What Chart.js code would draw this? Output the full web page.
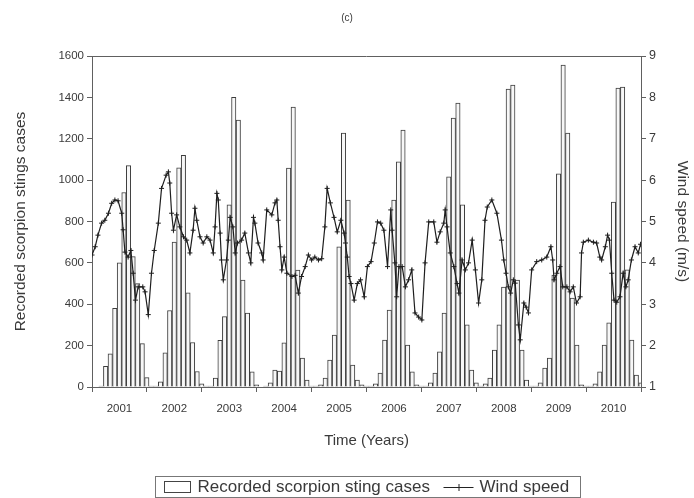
<!DOCTYPE html>
<html>
<head>
<meta charset="utf-8">
<script src="https://cdn.jsdelivr.net/npm/chart.js@4/dist/chart.umd.min.js"></script>
<style>
    html, body { margin: 0; padding: 0; background: #fff; }
</style>
</head>
<body>
<canvas id="chart" width="694" height="498"></canvas>
<script>
const YEARS = ['2001', '2002', '2003', '2004', '2005', '2006', '2007', '2008', '2009', '2010'];
const MONTHS = ['Jan', 'Feb', 'Mar', 'Apr', 'May', 'Jun', 'Jul', 'Aug', 'Sep', 'Oct', 'Nov', 'Dec'];

// monthly recorded scorpion sting cases, one array per year
const CASES_2001 = [0, 5, 100, 160, 380, 600, 940, 1070, 630, 500, 210, 45];
const CASES_2002 = [5, 5, 25, 165, 370, 700, 1060, 1120, 455, 215, 75, 15];
const CASES_2003 = [5, 5, 43, 225, 340, 880, 1400, 1290, 517, 357, 73, 10];
const CASES_2004 = [0, 5, 20, 82, 77, 213, 1058, 1353, 565, 140, 34, 5];
const CASES_2005 = [5, 10, 43, 130, 251, 677, 1227, 904, 106, 34, 10, 5];
const CASES_2006 = [5, 15, 67, 227, 372, 904, 1088, 1242, 203, 73, 10, 5];
const CASES_2007 = [5, 20, 67, 170, 357, 1016, 1300, 1373, 880, 300, 82, 20];
const CASES_2008 = [5, 15, 43, 179, 300, 483, 1440, 1460, 517, 179, 34, 5];
const CASES_2009 = [5, 20, 92, 140, 541, 1030, 1556, 1228, 430, 203, 10, 5];
const CASES_2010 = [5, 15, 73, 203, 310, 894, 1445, 1450, 566, 227, 58, 20];

// wind speed readings: time in months since Jan 2001, speed in m/s
const WIND_TIME = [
    0.0, 0.7, 1.3, 2.1, 2.8, 3.6, 4.3, 5.0, 5.7, 6.5, 6.8, 7.2, 7.9, 8.5, 9.0, 9.5, 10.1, 11.1, 11.6,
    12.3, 13.0, 13.6, 14.5, 15.2, 16.2, 16.7, 17.0, 17.4, 17.8, 18.5, 19.2, 20.0, 20.7, 21.4, 22.1, 22.5, 22.9, 23.6,
    24.3, 25.1, 25.8, 26.5, 26.9, 27.3, 27.6, 28.0, 28.3, 28.7, 29.4, 29.8, 30.2, 30.8, 31.3, 31.8, 32.7, 33.4, 34.2, 34.7, 35.3, 35.6,
    36.3, 37.1, 37.4, 38.2, 39.3, 40.0, 40.4, 40.7, 41.1, 41.5, 42.0, 42.6, 43.7, 44.4, 45.1, 45.8, 46.6, 47.3,
    48.0, 48.7, 49.5, 50.2, 50.9, 51.4, 52.1, 52.9, 53.6, 54.4, 55.1, 55.4, 55.8, 56.2, 56.6, 57.3, 58.0, 58.7, 59.5,
    60.2, 61.0, 61.7, 62.4, 63.1, 63.8, 64.6, 65.3, 65.6, 66.2, 66.6, 67.1, 67.8, 68.5, 69.2, 69.9, 70.6, 71.4,
    72.1, 72.8, 73.6, 74.7, 75.4, 76.1, 76.9, 77.2, 77.6, 78.3, 79.1, 79.8, 80.2, 80.9, 81.6, 82.3, 83.1, 83.8,
    84.5, 85.2, 85.9, 86.4, 87.4, 88.5, 89.5, 90.0, 90.5, 91.0, 91.5, 92.1, 92.5, 93.2, 93.6, 94.4, 94.9, 95.4,
    96.1, 97.2, 98.3, 99.4, 100.3, 100.7, 101.0, 101.6, 102.3, 102.9, 103.8, 104.5, 105.2, 105.9, 106.7, 107.0, 107.4,
    108.5, 109.6, 110.3, 111.0, 111.4, 112.2, 112.7, 113.1, 113.6, 114.1, 114.7, 115.4, 116.1, 116.7, 117.2, 117.9, 118.7, 119.4, 119.9
];
const WIND_SPEED = [
    4.19, 4.39, 4.67, 4.96, 5.03, 5.20, 5.44, 5.52, 5.50, 5.20, 4.80, 4.26, 4.14, 4.30, 3.75, 3.10, 3.42, 3.42, 3.30,
    2.75, 3.75, 4.30, 4.96, 5.80, 6.12, 6.20, 5.93, 5.20, 4.79, 5.16, 4.87, 4.63, 4.55, 4.24, 4.79, 5.32, 5.03, 4.63,
    4.48, 4.63, 4.55, 4.24, 4.87, 5.68, 5.52, 4.72, 4.07, 3.59, 4.07, 4.55, 5.10, 4.87, 4.24, 4.48, 4.55, 4.72, 4.24, 4.00, 5.10, 4.96,
    4.48, 4.24, 4.07, 5.28, 5.16, 5.45, 5.52, 5.03, 4.39, 3.83, 4.14, 3.75, 3.67, 3.70, 3.27, 3.67, 3.91, 4.19,
    4.07, 4.14, 4.07, 4.10, 4.87, 5.80, 5.45, 5.10, 4.75, 5.03, 4.72, 4.48, 4.14, 3.67, 3.50, 3.10, 3.50, 3.59, 3.18,
    3.91, 4.03, 4.48, 4.99, 4.96, 4.79, 3.91, 5.28, 4.79, 4.00, 3.18, 3.91, 3.91, 3.42, 3.59, 3.83, 2.79, 2.69,
    2.62, 4.00, 4.99, 4.99, 4.50, 4.75, 4.96, 5.28, 4.87, 4.24, 3.91, 3.50, 3.27, 4.07, 3.83, 4.00, 4.55, 3.83,
    3.03, 3.59, 5.03, 5.35, 5.52, 5.20, 4.55, 4.07, 3.75, 3.42, 3.27, 3.59, 3.51, 2.50, 2.14, 3.03, 2.93, 2.79,
    3.83, 4.03, 4.07, 4.14, 4.39, 4.07, 3.59, 3.75, 3.91, 3.42, 3.42, 3.30, 3.42, 3.03, 3.18, 4.24, 4.50,
    4.55, 4.50, 4.48, 4.14, 4.07, 4.39, 4.67, 4.55, 3.75, 3.10, 3.05, 3.18, 3.75, 3.42, 3.59, 4.07, 4.39, 4.24, 4.45
];

const CASES = [].concat(CASES_2001, CASES_2002, CASES_2003, CASES_2004, CASES_2005,
    CASES_2006, CASES_2007, CASES_2008, CASES_2009, CASES_2010);
const LABELS = YEARS.flatMap(y => MONTHS.map(m => `${m} ${y}`));
const WIND = WIND_TIME.map((t, i) => ({ x: t, y: WIND_SPEED[i] }));

const FONT = '"Liberation Sans", Arial, sans-serif';
const TEXT = '#3a3a3a';
const AXIS = '#606060';

// top frame line + boxed legend like the original figure
const frameLegend = {
    id: 'frameLegend',
    afterDraw(chart) {
        const { ctx, chartArea: a } = chart;
        ctx.save();
        ctx.strokeStyle = AXIS;
        ctx.lineWidth = 1;
        ctx.beginPath();
        ctx.moveTo(a.left, a.top + 0.5);
        ctx.lineTo(a.right, a.top + 0.5);
        ctx.stroke();

        const cx = (a.left + a.right) / 2;
        const x0 = Math.round(cx - 212) + 0.5, y0 = 476.5, cy = 487;
        ctx.strokeStyle = '#777';
        ctx.strokeRect(x0, y0, 425, 21);

        ctx.fillStyle = '#fff';
        ctx.strokeStyle = '#444';
        ctx.fillRect(x0 + 9, cy - 5.5, 26, 11);
        ctx.strokeRect(x0 + 9, cy - 5.5, 26, 11);

        ctx.fillStyle = TEXT;
        ctx.font = `17px ${FONT}`;
        ctx.textBaseline = 'middle';
        ctx.fillText('Recorded scorpion sting cases', x0 + 42, cy);

        const lx = x0 + 288;
        ctx.strokeStyle = '#222';
        ctx.beginPath();
        ctx.moveTo(lx, cy + 0.5); ctx.lineTo(lx + 30, cy + 0.5);
        ctx.moveTo(lx + 15.5, cy - 3); ctx.lineTo(lx + 15.5, cy + 4);
        ctx.stroke();
        ctx.fillText('Wind speed', lx + 36, cy);
        ctx.restore();
    }
};

new Chart(document.getElementById('chart'), {
    data: {
        labels: LABELS,
        datasets: [
            {
                type: 'line',
                label: 'Wind speed',
                data: WIND,
                xAxisID: 'xt',
                yAxisID: 'y1',
                borderColor: '#1e1e1e',
                borderWidth: 1.2,
                pointStyle: 'cross',
                pointRadius: 2.5,
                pointBorderColor: '#1e1e1e',
                pointBorderWidth: 1,
                tension: 0,
                order: 0
            },
            {
                type: 'bar',
                label: 'Recorded scorpion sting cases',
                data: CASES,
                xAxisID: 'x',
                yAxisID: 'y',
                backgroundColor: '#f7f7f7',
                borderColor: '#3c3c3c',
                borderWidth: 1,
                barThickness: 4.4,
                order: 1
            }
        ]
    },
    options: {
        responsive: false,
        animation: false,
        layout: { padding: { left: 0, right: 0, top: 0, bottom: 41 } },
        plugins: {
            legend: { display: false },
            tooltip: { enabled: false },
            title: {
                display: true,
                text: '(c)',
                color: TEXT,
                font: { family: FONT, size: 10, weight: 'normal' },
                padding: { top: 12, bottom: 32 }
            }
        },
        scales: {
            x: { type: 'category', display: false, offset: true },
            xt: {
                type: 'linear',
                position: 'bottom',
                min: 0,
                max: 120,
                afterBuildTicks: s => { s.ticks = Array.from({ length: 21 }, (_, i) => ({ value: i * 6 })); },
                afterFit: s => { s.height = 70; },
                ticks: {
                    autoSkip: false,
                    maxRotation: 0,
                    padding: 10,
                    color: TEXT,
                    font: { family: FONT, size: 11.5 },
                    callback: v => (v % 12 === 6 ? YEARS[(v - 6) / 12] : '')
                },
                grid: {
                    drawOnChartArea: false,
                    tickLength: 5,
                    color: c => (c.tick && c.tick.value % 12 === 0 ? AXIS : 'rgba(0,0,0,0)')
                },
                border: { color: AXIS },
                title: {
                    display: true,
                    text: 'Time (Years)',
                    color: TEXT,
                    font: { family: FONT, size: 15 },
                    padding: { top: 0, bottom: 7 }
                }
            },
            y: {
                position: 'left',
                min: 0,
                max: 1600,
                afterFit: s => { s.width = 92; },
                ticks: { stepSize: 200, padding: 3, color: TEXT, font: { family: FONT, size: 11.5 }, callback: v => String(v) },
                grid: { drawOnChartArea: false, tickLength: 5, color: AXIS },
                border: { color: AXIS },
                title: {
                    display: true,
                    text: 'Recorded scorpion stings cases',
                    color: TEXT,
                    font: { family: FONT, size: 15.5 },
                    padding: { top: 11, bottom: 0 }
                }
            },
            y1: {
                position: 'right',
                min: 1,
                max: 9,
                afterFit: s => { s.width = 53; },
                ticks: { stepSize: 1, padding: 3, color: TEXT, font: { family: FONT, size: 12.5 } },
                grid: { drawOnChartArea: false, tickLength: 5, color: AXIS },
                border: { color: AXIS },
                title: {
                    display: true,
                    text: 'Wind speed (m/s)',
                    color: TEXT,
                    font: { family: FONT, size: 15.5 },
                    padding: { top: 2, bottom: 0 }
                }
            }
        }
    },
    plugins: [frameLegend]
});
</script>
</body>
</html>
